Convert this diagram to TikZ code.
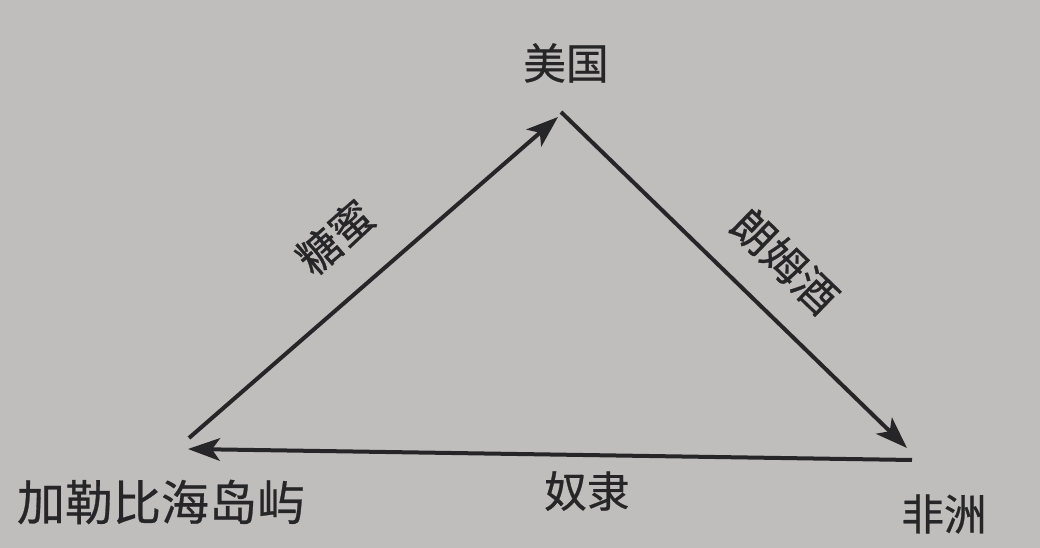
\documentclass[tikz,border=0pt]{standalone}
\usepackage{fontspec}
\setmainfont{Noto Sans CJK SC}
\newfontfamily\cjk[FakeBold=0.6]{Noto Sans CJK SC}
\usetikzlibrary{arrows.meta}
\definecolor{bg}{RGB}{191,190,188}
\definecolor{ink}{RGB}{38,38,40}
\begin{document}
\begin{tikzpicture}[x=0.75pt,y=-0.75pt,
  lbl/.style={text=ink,inner sep=0pt,font=\cjk\fontsize{32}{36}\selectfont},
  big/.style={text=ink,inner sep=0pt,font=\cjk\fontsize{36}{40}\selectfont},
  flow/.style={draw=ink,line width=3pt,-{Stealth[length=24pt,width=17pt,inset=6pt]}}]
\fill[bg] (0,0) rectangle (1040,548);
\useasboundingbox (0,0) rectangle (1040,548);
% endpoints
\coordinate (sugarS) at (189,438);
\coordinate (sugarE) at (558,117);
\coordinate (rumS) at (561,112);
\coordinate (rumE) at (907,448);
\coordinate (slaveS) at (912,460);
\coordinate (slaveE) at (188,449);
% place labels
\node[lbl] (us) at (566,63) {美国};
\node[big] (carib) at (161,502) {加勒比海岛屿};
\node[lbl] (africa) at (944,514) {非洲};
% flow labels
\node[lbl,rotate=41] (sugar) at (335,237) {糖蜜};
\node[lbl,rotate=-44] (rum) at (785,261) {朗姆酒};
\node[lbl] (slave) at (587,491) {奴隶};
% connectors
\draw[flow] (sugarS) -- (sugarE);
\draw[flow] (rumS) -- (rumE);
\draw[flow] (slaveS) -- (slaveE);
\end{tikzpicture}
\end{document}
